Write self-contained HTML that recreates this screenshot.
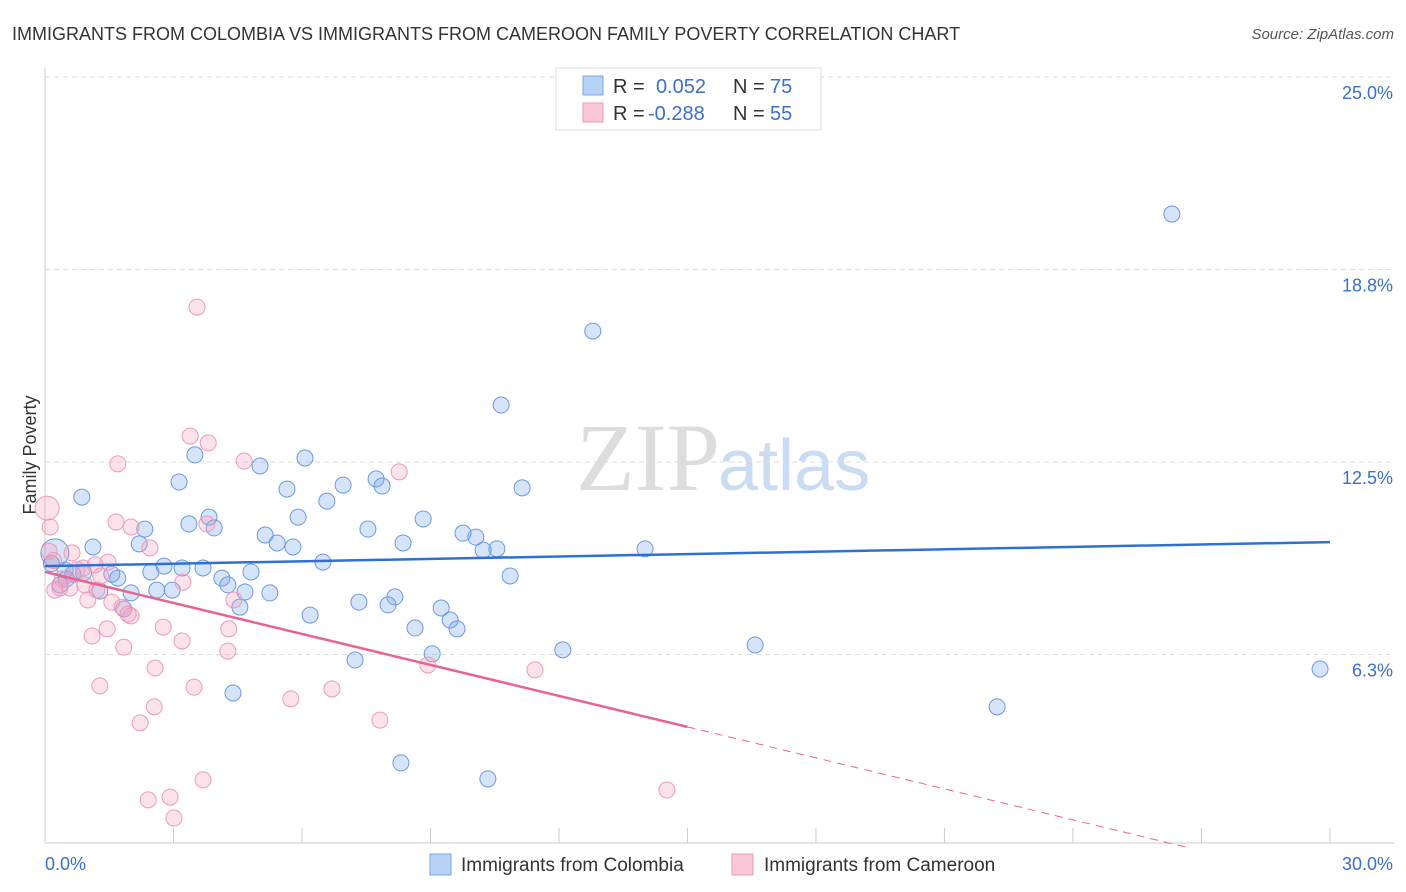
<!DOCTYPE html>
<html><head><meta charset="utf-8">
<style>
body{margin:0;background:#fff;font-family:"Liberation Sans",sans-serif;}
#wrap{position:relative;width:1406px;height:892px;overflow:hidden;}
</style></head>
<body>
<div id="wrap">
<svg id="svg" width="1406" height="892" xmlns="http://www.w3.org/2000/svg">
<text x="12" y="40" font-size="18" fill="#333">IMMIGRANTS FROM COLOMBIA VS IMMIGRANTS FROM CAMEROON FAMILY POVERTY CORRELATION CHART</text>
<text x="1394" y="39" font-size="15" fill="#555" font-style="italic" text-anchor="end">Source: ZipAtlas.com</text>
<text x="720" y="490" font-size="96" fill="#ddd" text-anchor="end" font-family="Liberation Serif,serif">ZIP</text>
<text x="718" y="490" font-size="72" fill="#c9dcf3">atlas</text>
<text x="36" y="455" font-size="18" fill="#333" text-anchor="middle" transform="rotate(-90 36 455)">Family Poverty</text>
<g id="grid"></g><g id="axes"></g><g id="pts"></g><g id="trends"></g>
<g>
<rect x="556" y="68" width="265" height="62" fill="#fff" stroke="#ddd"/>
<rect x="583" y="76" width="20" height="19" fill="#b8d2f5" stroke="#7aa6e8"/>
<rect x="583" y="103" width="20" height="19" fill="#f9c7d6" stroke="#ee9ab5"/>
<text x="613" y="93" font-size="20" fill="#333">R = </text><text x="656" y="93" font-size="20" fill="#3a70cc">0.052</text>
<text x="733" y="93" font-size="20" fill="#333">N = </text><text x="770" y="93" font-size="20" fill="#3a70cc">75</text>
<text x="613" y="120" font-size="20" fill="#333">R = </text><text x="648" y="120" font-size="20" fill="#3a70cc">-0.288</text>
<text x="733" y="120" font-size="20" fill="#333">N = </text><text x="770" y="120" font-size="20" fill="#3a70cc">55</text>
</g>
<g>
<rect x="430" y="854" width="21" height="21" fill="#b8d2f5" stroke="#7aa6e8"/>
<text x="461" y="871" font-size="19" fill="#333">Immigrants from Colombia</text>
<rect x="732" y="854" width="21" height="21" fill="#f9c7d6" stroke="#ee9ab5"/>
<text x="764" y="871" font-size="19" fill="#333">Immigrants from Cameroon</text>
</g>
</svg>
</div>
<script>
const xTicks=[0,3,6,9,12,15,18,21,24,27,30];
const yTicks=[6.25,12.5,18.75,25];
const yTickLabels=["6.3%","12.5%","18.8%","25.0%"];
const blueX=[26.31,12.79,10.65,29.77,22.23,16.58,12.09,14.01,11.14,10.86,10.55,10.23,10.06,9.76,8.83,8.36,7.73,7.87,6.96,6.58,7.54,5.91,5.65,6.07,5.02,3.50,3.13,0.86,5.14,5.42,5.79,3.83,3.95,3.36,2.33,2.20,1.12,6.49,2.78,3.20,3.69,2.47,4.81,4.13,4.27,1.70,1.56,1.28,2.01,2.61,2.97,4.67,5.25,4.55,6.19,7.33,8.17,8.01,9.25,9.46,9.62,8.64,9.04,7.24,4.39,8.31,10.34,1.84,0.23,0.47,0.65,0.35,0.5,0.9,0.15];
const blueY=[20.55,16.75,14.35,5.78,4.55,6.56,6.40,9.68,11.66,8.80,9.68,9.64,10.06,10.19,10.65,9.87,11.95,11.72,11.75,11.23,10.32,10.71,11.62,12.63,12.37,12.73,11.85,11.36,10.13,9.87,9.74,10.71,10.36,10.49,10.32,9.84,9.74,9.25,9.12,9.06,9.06,8.93,8.93,8.73,8.51,8.73,8.86,8.31,8.25,8.34,8.34,8.28,8.25,7.79,7.53,7.95,8.12,7.86,7.76,7.37,7.08,7.11,6.27,6.07,5.00,2.73,2.21,7.73,9.55,8.99,8.86,8.51,8.7,8.9,9.2];
const pinkX=[3.55,3.39,3.81,1.70,4.65,8.27,0.05,0.12,1.66,2.01,2.45,3.78,0.63,1.47,1.17,0.89,0.23,0.35,0.58,0.93,1.21,1.00,3.22,1.56,1.80,1.94,2.01,4.41,2.76,4.29,1.45,1.10,1.84,3.20,4.27,2.57,1.28,3.48,6.70,5.74,2.55,2.22,7.82,8.94,11.44,3.69,2.92,2.41,3.01,14.52,0.1,0.4,0.75,1.3,0.2];
const pinkY=[17.53,13.34,13.12,12.44,12.53,12.18,11.0,10.39,10.55,10.39,9.71,10.49,9.55,9.25,9.16,9.06,8.34,8.41,8.41,8.51,8.34,8.02,8.60,7.95,7.79,7.56,7.50,8.02,7.14,7.08,7.08,6.85,6.49,6.69,6.36,5.81,5.23,5.19,5.13,4.81,4.55,4.03,4.12,5.91,5.75,2.18,1.62,1.53,0.94,1.85,9.6,8.7,9.0,8.8,9.3];
const blueTrend=[9.12,9.90];
const pinkTrend=[8.93,3.90];
const pinkTrendEnd=26.7;
const NS='http://www.w3.org/2000/svg';
const X=v=>45+v*42.83, Y=v=>847-v*30.8;
function mk(tag,attrs,parent){const e=document.createElementNS(NS,tag);for(const k in attrs)e.setAttribute(k,attrs[k]);document.getElementById(parent).appendChild(e);return e;}
yTicks.forEach((t,i)=>{
 const l=mk('line',{x1:45,x2:1394,y1:Y(t),y2:Y(t),stroke:'#ddd','stroke-dasharray':'5,4'},'grid');
 
 
 const tx=mk('text',{x:1393,y:Y(t)+22,'font-size':18,fill:'#3a70cc','text-anchor':'end'},'grid');
 tx.textContent=yTickLabels[i];
 
 
});
const yl=mk('line',{x1:45,x2:45,y1:68,y2:843,stroke:'#ccc'},'axes');


const xl=mk('line',{x1:45,x2:1394,y1:843,y2:843,stroke:'#ccc'},'axes');


xTicks.forEach(t=>{
 const l=mk('line',{x1:X(t),x2:X(t),y1:828,y2:843,stroke:'#ccc'},'axes');
 
 
});
const x0=mk('text',{x:45,y:870,'font-size':18,fill:'#3a70cc'},'axes');x0.textContent='0.0%';


const x1=mk('text',{x:1393,y:870,'font-size':18,fill:'#3a70cc','text-anchor':'end'},'axes');x1.textContent='30.0%';


blueX.forEach((v,i)=>{
 const r=(i==68)?14:8;
 const c=mk('circle',{cx:X(v),cy:Y(blueY[i]),r:r,fill:'rgba(120,165,235,0.3)',stroke:'#6b9ae0','stroke-width':1},'pts');
 
 
});
pinkX.forEach((v,i)=>{
 const r=(i==6)?12:8;
 const c=mk('circle',{cx:X(v),cy:Y(pinkY[i]),r:r,fill:'rgba(245,160,190,0.3)',stroke:'#ee9ab5','stroke-width':1},'pts');
 
 
});
const bt=mk('line',{x1:X(0),y1:Y(blueTrend[0]),x2:X(30),y2:Y(blueTrend[1]),stroke:'#2f6fd6','stroke-width':2.5},'trends');


const slope=(pinkTrend[1]-pinkTrend[0])/15;
const pt=mk('line',{x1:X(0),y1:Y(pinkTrend[0]),x2:X(15),y2:Y(pinkTrend[1]),stroke:'#e8648f','stroke-width':2.5},'trends');


const pd=mk('line',{x1:X(15),y1:Y(pinkTrend[1]),x2:X(pinkTrendEnd),y2:Y(pinkTrend[0]+slope*pinkTrendEnd),stroke:'#e8648f','stroke-width':1,'stroke-dasharray':'8,6'},'trends');


</script>
</body></html>
